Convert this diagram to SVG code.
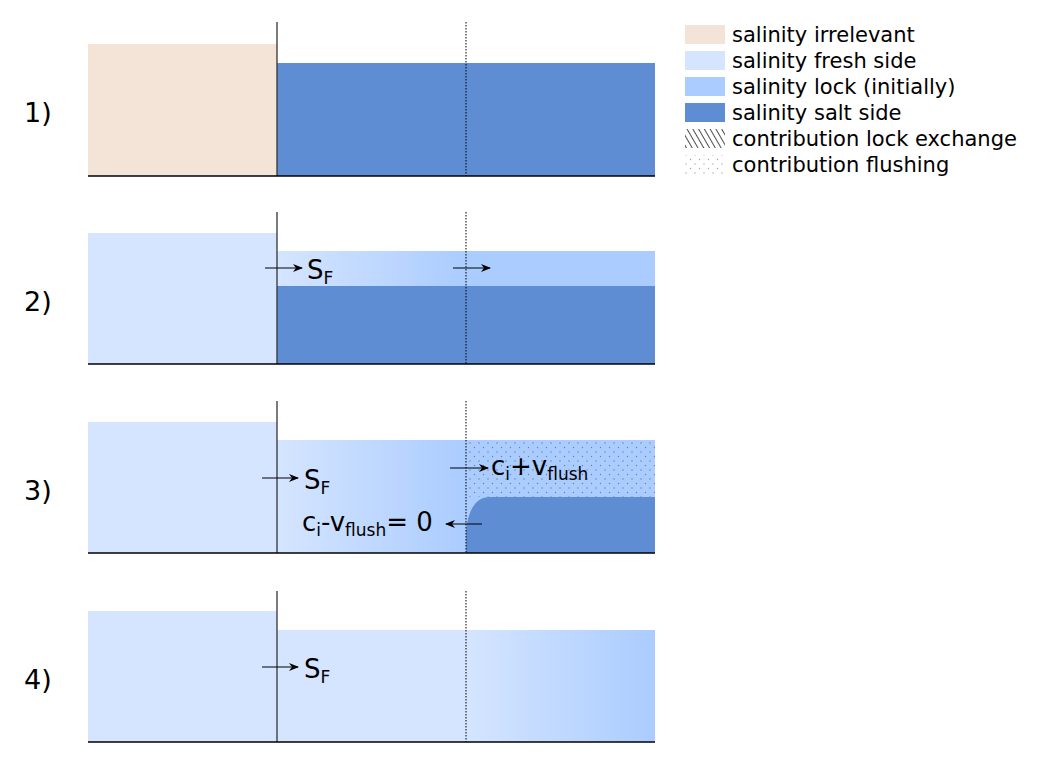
<svg xmlns="http://www.w3.org/2000/svg" width="1044" height="768" viewBox="0 0 1044 768">
<style>
text{font-family:"DejaVu Sans",Verdana,sans-serif;fill:#000}
.lbl{font-size:27px}
.leg{font-size:21px}
.t{font-size:26px}
.sub{font-size:17px}
.irr{fill:#f4e3d7}.fr{fill:#d5e5ff}.lk{fill:#aaccff}.sa{fill:#5f8dd3}
.ax{stroke:#000;stroke-width:1.3}
.wall{stroke:#333;stroke-width:1.3}
.dot{stroke:#000;stroke-width:1;stroke-dasharray:1.5,1.5}
.ar{stroke:#000;stroke-width:1.2;marker-end:url(#ah)}
</style>
<defs>
<marker id="ah" markerWidth="10" markerHeight="8" refX="9" refY="4" orient="auto" markerUnits="userSpaceOnUse"><path d="M0,0L10,4L0,8L3,4z" fill="#000"/></marker>
<linearGradient id="g1" x1="277" x2="466" y1="0" y2="0" gradientUnits="userSpaceOnUse"><stop offset="0" stop-color="#d5e5ff"/><stop offset="1" stop-color="#aaccff"/></linearGradient>
<linearGradient id="g4" x1="466" x2="655" y1="0" y2="0" gradientUnits="userSpaceOnUse"><stop offset="0" stop-color="#d5e5ff"/><stop offset="1" stop-color="#aaccff"/></linearGradient>
<pattern id="dots" width="9" height="9" patternUnits="userSpaceOnUse"><circle cx="2" cy="2" r="0.7" fill="#3a4a6a"/><circle cx="6.5" cy="6.5" r="0.7" fill="#3a4a6a"/></pattern>
<pattern id="hatch" width="5" height="5" patternUnits="userSpaceOnUse" patternTransform="rotate(-30)"><line x1="0" y1="0" x2="0" y2="5" stroke="#000" stroke-width="1.4"/></pattern>
</defs>
<g id="legend">
<rect x="685" y="25" width="40" height="19" class="irr"/>
<rect x="685" y="51" width="40" height="19" class="fr"/>
<rect x="685" y="77" width="40" height="19" class="lk"/>
<rect x="685" y="103" width="40" height="19" class="sa"/>
<rect x="685" y="129" width="40" height="19" fill="url(#hatch)"/>
<rect x="685" y="155" width="40" height="19" fill="url(#dots)" opacity="0.5"/>
<text class="leg" x="732" y="42">salinity irrelevant</text>
<text class="leg" x="732" y="68">salinity fresh side</text>
<text class="leg" x="732" y="94">salinity lock (initially)</text>
<text class="leg" x="732" y="120">salinity salt side</text>
<text class="leg" x="732" y="146">contribution lock exchange</text>
<text class="leg" x="732" y="172">contribution flushing</text>
</g>
<g id="panel1">
<text class="lbl" x="24" y="122">1)</text>
<rect x="88" y="44" width="189" height="132" class="irr"/>
<rect x="277" y="63" width="378" height="113" class="sa"/>
<line x1="277" y1="22" x2="277" y2="176" class="wall"/>
<line x1="466" y1="22" x2="466" y2="176" class="dot"/>
<line x1="88" y1="176" x2="655" y2="176" class="ax"/>
</g>
<g id="panel2">
<text class="lbl" x="24" y="311">2)</text>
<rect x="88" y="233" width="189" height="131" class="fr"/>
<rect x="277" y="251" width="378" height="35" fill="url(#g1)"/>
<rect x="466" y="251" width="189" height="35" class="lk"/>
<rect x="277" y="286" width="378" height="78" class="sa"/>
<line x1="277" y1="212" x2="277" y2="364" class="wall"/>
<line x1="466" y1="212" x2="466" y2="364" class="dot"/>
<line x1="88" y1="364" x2="655" y2="364" class="ax"/>
</g>
<g id="panel3">
<text class="lbl" x="24" y="500">3)</text>
<rect x="88" y="422" width="189" height="131" class="fr"/>
<rect x="277" y="440" width="189" height="113" fill="url(#g1)"/>
<rect x="466" y="440" width="189" height="113" class="lk"/>
<rect x="466" y="440" width="189" height="57" fill="url(#dots)" opacity="0.6"/>
<path d="M466,553L466,530Q470,497 490,497L655,497L655,553Z" class="sa"/>
<line x1="277" y1="401" x2="277" y2="553" class="wall"/>
<line x1="466" y1="401" x2="466" y2="553" class="dot"/>
<line x1="88" y1="553" x2="655" y2="553" class="ax"/>
</g>
<g id="panel4">
<text class="lbl" x="24" y="689">4)</text>
<rect x="88" y="611" width="189" height="131" class="fr"/>
<rect x="277" y="630" width="189" height="112" class="fr"/>
<rect x="466" y="630" width="189" height="112" fill="url(#g4)"/>
<line x1="277" y1="591" x2="277" y2="742" class="wall"/>
<line x1="466" y1="591" x2="466" y2="742" class="dot"/>
<line x1="88" y1="742" x2="655" y2="742" class="ax"/>
</g>
<g id="connectors">
<line x1="265" y1="268" x2="302" y2="268" class="ar"/>
<line x1="453" y1="268" x2="490" y2="268" class="ar"/>
<line x1="262" y1="478" x2="298" y2="478" class="ar"/>
<line x1="450" y1="468" x2="488" y2="468" class="ar"/>
<line x1="482" y1="524" x2="446" y2="524" class="ar"/>
<line x1="262" y1="667" x2="298" y2="667" class="ar"/>
</g>
<g id="labels">
<text class="t" x="307" y="279">S<tspan class="sub" dy="5">F</tspan></text>
<text class="t" x="304" y="489">S<tspan class="sub" dy="5">F</tspan></text>
<text class="t" x="304" y="678">S<tspan class="sub" dy="5">F</tspan></text>
<text class="t" x="491" y="475">c<tspan class="sub" dy="5">i</tspan><tspan dy="-5">+v</tspan><tspan class="sub" dy="5">flush</tspan></text>
<text class="t" x="302" y="531">c<tspan class="sub" dy="5">i</tspan><tspan dy="-5">-v</tspan><tspan class="sub" dy="5">flush</tspan><tspan dy="-5">= 0</tspan></text>
</g>
</svg>
